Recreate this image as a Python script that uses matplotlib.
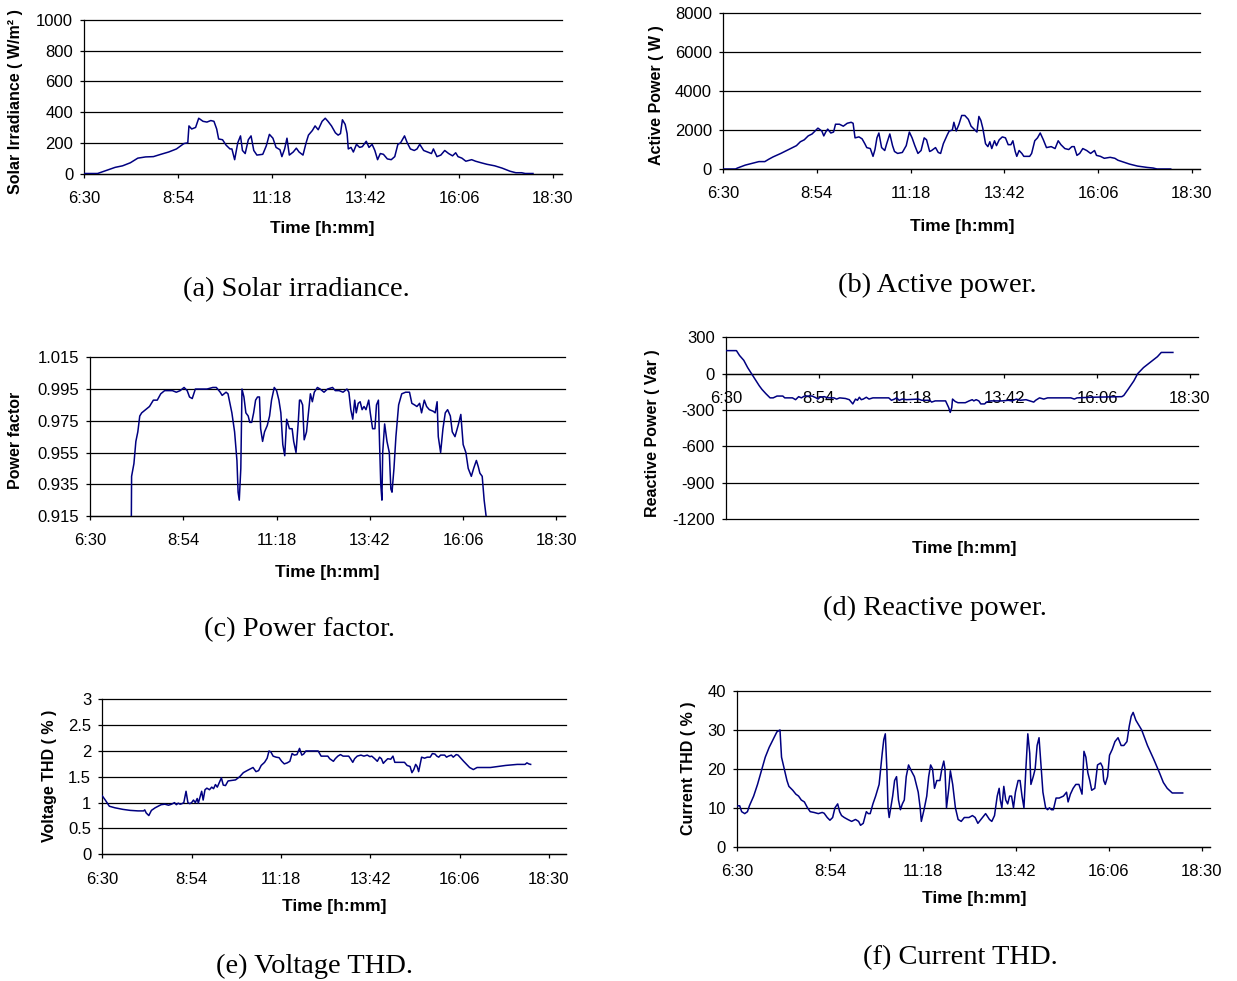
import matplotlib.pyplot as plt
import numpy as np

plt.rcParams['font.family'] = ['Liberation Sans', 'DejaVu Sans']
plt.rcParams['axes.unicode_minus'] = False

W, H = 1237, 981

# time axis, hours of day
tick_hours = [6.5, 8.9, 11.3, 13.7, 16.1, 18.5]
tick_labels = ['6:30', '8:54', '11:18', '13:42', '16:06', '18:30']

'''
(a) solar irradiance
'''
irr_t = [6.50, 6.84, 7.29, 7.48, 7.68, 7.87, 8.07, 8.27, 8.46, 8.66,
         8.86, 9.05, 9.15, 9.18, 9.25, 9.35, 9.43, 9.54, 9.64, 9.74,
         9.82, 9.89, 9.94, 10.04, 10.13, 10.23, 10.28, 10.35, 10.43, 10.50,
         10.55, 10.62, 10.70, 10.77, 10.84, 10.92, 11.07, 11.16, 11.24, 11.33,
         11.41, 11.51, 11.56, 11.63, 11.69, 11.75, 11.85, 11.93, 12.00, 12.10,
         12.18, 12.24, 12.34, 12.41, 12.49, 12.59, 12.67, 12.74, 12.83, 12.93,
         13.00, 13.06, 13.11, 13.18, 13.23, 13.26, 13.33, 13.39, 13.47, 13.55,
         13.62, 13.72, 13.79, 13.87, 13.94, 14.01, 14.08, 14.16, 14.26, 14.36,
         14.45, 14.53, 14.60, 14.70, 14.77, 14.85, 14.95, 15.02, 15.09, 15.19,
         15.29, 15.39, 15.44, 15.53, 15.63, 15.73, 15.83, 15.93, 16.01, 16.07,
         16.17, 16.27, 16.42, 16.52, 16.66, 16.81, 17.01, 17.20, 17.40, 17.55,
         17.70, 17.79, 17.99]
irr_v = [0, 0, 40, 50, 70, 100, 108, 110, 125, 140,
         160, 195, 200, 310, 290, 300, 360, 340, 335, 345,
         340, 290, 225, 220, 185, 160, 160, 90, 200, 245,
         150, 130, 220, 245, 150, 120, 125, 180, 255, 230,
         170, 155, 110, 160, 230, 120, 140, 165, 140, 120,
         200, 250, 280, 310, 285, 340, 360, 340, 310, 265,
         250, 260, 350, 320, 260, 160, 170, 140, 190, 170,
         175, 210, 170, 190, 150, 90, 130, 125, 95, 90,
         110, 190, 200, 245, 200, 160, 150, 160, 190, 150,
         140, 130, 160, 110, 120, 150, 130, 115, 135, 110,
         100, 80, 90, 80, 70, 60, 50, 35, 15, 5,
         5, 0, 0]

'''
(b) active power
'''
p_t = [6.50, 6.82, 6.87, 7.07, 7.27, 7.42, 7.57, 7.67, 7.78, 7.98,
       8.18, 8.38, 8.48, 8.58, 8.68, 8.78, 8.88, 8.93, 9.03, 9.08,
       9.13, 9.18, 9.26, 9.33, 9.38, 9.48, 9.58, 9.68, 9.78, 9.83,
       9.88, 9.98, 10.06, 10.13, 10.18, 10.27, 10.34, 10.39, 10.44, 10.49,
       10.56, 10.64, 10.69, 10.77, 10.84, 10.89, 10.97, 11.09, 11.19, 11.27,
       11.34, 11.41, 11.49, 11.57, 11.65, 11.71, 11.79, 11.84, 11.94, 12.01,
       12.07, 12.14, 12.24, 12.29, 12.37, 12.41, 12.47, 12.54, 12.61, 12.69,
       12.78, 12.85, 12.95, 13.00, 13.05, 13.10, 13.15, 13.22, 13.28, 13.33,
       13.38, 13.45, 13.50, 13.57, 13.65, 13.73, 13.80, 13.87, 13.92, 13.98,
       14.02, 14.08, 14.15, 14.20, 14.35, 14.40, 14.48, 14.55, 14.62, 14.70,
       14.78, 14.90, 15.00, 15.08, 15.15, 15.25, 15.35, 15.43, 15.49, 15.56,
       15.63, 15.71, 15.81, 15.91, 16.01, 16.06, 16.16, 16.26, 16.41, 16.53,
       16.61, 16.76, 16.91, 17.11, 17.36, 17.51, 17.61, 17.96]
p_v = [0, 0, 50, 200, 300, 380, 380, 500, 620, 800,
       1000, 1200, 1400, 1500, 1700, 1800, 2000, 2100, 1950, 1700,
       1900, 2050, 1850, 1900, 2300, 2300, 2200, 2350, 2400, 2350,
       1600, 1650, 1550, 1300, 1100, 1050, 650, 1000, 1600, 1850,
       1100, 950, 1300, 1800, 1200, 900, 800, 850, 1200, 1900,
       1600, 1200, 800, 950, 1600, 1500, 900, 950, 1100, 850,
       800, 1300, 1750, 1950, 2000, 2400, 1950, 2300, 2750, 2750,
       2550, 2200, 2000, 1900, 2700, 2500, 2100, 1300, 1150, 1400,
       1050, 1450, 1200, 1500, 1650, 1600, 1250, 1250, 1450, 900,
       650, 950, 800, 650, 650, 800, 1450, 1600, 1850, 1500,
       1100, 1150, 1050, 1450, 1250, 1050, 1000, 1150, 1150, 700,
       800, 1050, 950, 800, 950, 700, 650, 550, 600, 550,
       450, 350, 250, 150, 80, 50, 0, 0]

'''
(c) power factor (goes off the bottom of the scale at both ends)
'''
pf_t = [7.56, 7.57, 7.63, 7.68, 7.73, 7.78, 7.83, 7.93, 8.03, 8.13,
        8.23, 8.32, 8.42, 8.52, 8.62, 8.72, 8.82, 8.92, 9.00, 9.06,
        9.13, 9.21, 9.31, 9.51, 9.66, 9.75, 9.85, 9.90, 10.00, 10.05,
        10.15, 10.22, 10.28, 10.31, 10.34, 10.38, 10.41, 10.46, 10.51, 10.57,
        10.61, 10.66, 10.71, 10.76, 10.81, 10.86, 10.89, 10.94, 10.99, 11.06,
        11.12, 11.17, 11.24, 11.30, 11.36, 11.41, 11.46, 11.51, 11.56, 11.63,
        11.70, 11.74, 11.80, 11.86, 11.89, 11.92, 11.97, 12.01, 12.07, 12.12,
        12.17, 12.22, 12.27, 12.35, 12.42, 12.52, 12.61, 12.74, 12.81, 12.91,
        13.01, 13.11, 13.16, 13.21, 13.26, 13.31, 13.35, 13.40, 13.45, 13.50,
        13.55, 13.60, 13.67, 13.71, 13.77, 13.83, 13.87, 13.92, 13.95, 13.98,
        14.01, 14.03, 14.08, 14.14, 14.20, 14.24, 14.27, 14.32, 14.37, 14.44,
        14.52, 14.62, 14.72, 14.78, 14.85, 14.91, 14.98, 15.03, 15.10, 15.16,
        15.23, 15.33, 15.38, 15.43, 15.46, 15.52, 15.58, 15.64, 15.70, 15.77,
        15.82, 15.89, 15.97, 16.04, 16.10, 16.17, 16.23, 16.31, 16.37, 16.44,
        16.49, 16.53, 16.59, 16.64, 16.69, 16.71]
pf_v = [0.900, 0.940, 0.948, 0.962, 0.968, 0.978, 0.980, 0.982, 0.984, 0.988,
        0.988, 0.992, 0.994, 0.994, 0.994, 0.993, 0.994, 0.996, 0.994, 0.990,
        0.989, 0.995, 0.995, 0.995, 0.996, 0.996, 0.993, 0.991, 0.993, 0.992,
        0.980, 0.968, 0.950, 0.930, 0.925, 0.945, 0.995, 0.990, 0.980, 0.978,
        0.974, 0.974, 0.980, 0.988, 0.990, 0.990, 0.970, 0.962, 0.968, 0.972,
        0.978, 0.988, 0.996, 0.994, 0.988, 0.980, 0.960, 0.953, 0.976, 0.970,
        0.970, 0.962, 0.955, 0.975, 0.988, 0.988, 0.985, 0.963, 0.968, 0.980,
        0.992, 0.987, 0.993, 0.996, 0.995, 0.993, 0.995, 0.996, 0.994, 0.994,
        0.993, 0.995, 0.993, 0.982, 0.976, 0.988, 0.980, 0.986, 0.987, 0.982,
        0.984, 0.982, 0.988, 0.980, 0.970, 0.970, 0.985, 0.988, 0.960, 0.935,
        0.925, 0.955, 0.973, 0.962, 0.955, 0.932, 0.930, 0.945, 0.965, 0.985,
        0.992, 0.993, 0.993, 0.986, 0.985, 0.984, 0.986, 0.980, 0.988, 0.984,
        0.982, 0.981, 0.980, 0.987, 0.965, 0.955, 0.970, 0.980, 0.982, 0.978,
        0.968, 0.965, 0.972, 0.979, 0.960, 0.955, 0.945, 0.940, 0.945, 0.950,
        0.946, 0.942, 0.940, 0.925, 0.915, 0.900]

'''
(d) reactive power
'''
q_t = [6.50, 6.77, 6.85, 6.96, 7.06, 7.16, 7.26, 7.36, 7.43, 7.53,
       7.64, 7.72, 7.82, 7.97, 8.02, 8.22, 8.30, 8.38, 8.45, 8.53,
       8.73, 8.83, 8.88, 8.93, 9.04, 9.14, 9.29, 9.36, 9.44, 9.59,
       9.69, 9.78, 9.85, 9.90, 9.95, 10.00, 10.05, 10.13, 10.20, 10.30,
       10.71, 10.78, 10.86, 10.91, 10.98, 11.06, 11.17, 11.47, 11.57, 11.77,
       11.82, 11.91, 12.18, 12.26, 12.30, 12.34, 12.36, 12.43, 12.50, 12.69,
       12.79, 12.87, 12.91, 12.97, 13.04, 13.09, 13.19, 13.24, 13.35, 13.50,
       13.65, 13.80, 13.90, 14.01, 14.11, 14.26, 14.36, 14.46, 14.51, 14.61,
       14.72, 14.82, 15.42, 15.51, 15.58, 15.93, 16.74, 16.79, 16.90, 17.05,
       17.15, 17.30, 17.50, 17.66, 17.76, 18.06]
q_v = [190, 190, 150, 110, 50, 0, -50, -100, -130, -165,
       -200, -200, -185, -185, -200, -200, -215, -190, -200, -185,
       -185, -200, -210, -195, -190, -200, -200, -210, -200, -205,
       -215, -250, -210, -220, -195, -215, -210, -195, -210, -200,
       -200, -220, -210, -200, -220, -210, -215, -210, -220, -220,
       -235, -225, -225, -280, -320, -280, -210, -230, -240, -240,
       -225, -215, -225, -215, -225, -250, -250, -235, -225, -225,
       -225, -220, -225, -210, -220, -215, -225, -235, -220, -200,
       -210, -200, -200, -210, -200, -195, -190, -180, -130, -60,
       0, 50, 100, 140, 175, 175]

'''
(e) voltage THD
'''
vthd_t = [6.50, 6.58, 6.69, 6.84, 7.05, 7.25, 7.46, 7.61, 7.64, 7.68,
          7.75, 7.82, 7.92, 8.08, 8.18, 8.28, 8.36, 8.44, 8.49, 8.54,
          8.59, 8.64, 8.69, 8.75, 8.80, 8.85, 8.90, 8.95, 9.00, 9.05,
          9.08, 9.13, 9.17, 9.21, 9.26, 9.31, 9.38, 9.44, 9.49, 9.54,
          9.59, 9.64, 9.70, 9.75, 9.81, 9.88, 9.98, 10.08, 10.19, 10.29,
          10.39, 10.55, 10.63, 10.70, 10.77, 10.86, 10.93, 10.98, 11.03, 11.09,
          11.17, 11.25, 11.32, 11.39, 11.47, 11.54, 11.60, 11.66, 11.73, 11.80,
          11.86, 11.91, 11.97, 12.30, 12.38, 12.56, 12.61, 12.71, 12.76, 12.83,
          12.90, 12.97, 13.12, 13.17, 13.23, 13.28, 13.35, 13.45, 13.53, 13.62,
          13.69, 13.74, 13.82, 13.89, 13.95, 14.00, 14.05, 14.10, 14.17, 14.25,
          14.31, 14.36, 14.62, 14.69, 14.77, 14.82, 14.87, 14.92, 14.96, 15.00,
          15.05, 15.08, 15.16, 15.23, 15.31, 15.37, 15.44, 15.49, 15.54, 15.59,
          15.70, 15.75, 15.80, 15.88, 15.93, 16.01, 16.06, 16.21, 16.37, 16.47,
          16.57, 16.93, 17.34, 17.65, 17.86, 17.91, 17.96, 18.01]
vthd_v = [1.13, 1.05, 0.93, 0.90, 0.87, 0.85, 0.84, 0.84, 0.86, 0.80,
          0.75, 0.85, 0.90, 0.96, 0.97, 0.95, 0.97, 1.00, 0.96, 0.99,
          0.97, 0.98, 1.00, 1.22, 1.00, 0.98, 1.00, 1.05, 1.00, 1.08,
          0.99, 1.12, 1.22, 1.05, 1.25, 1.28, 1.25, 1.30, 1.27, 1.35,
          1.30, 1.38, 1.48, 1.34, 1.33, 1.42, 1.43, 1.44, 1.50, 1.58,
          1.62, 1.68, 1.60, 1.62, 1.72, 1.78, 1.86, 2.00, 1.98, 1.90,
          1.88, 1.87, 1.80, 1.75, 1.77, 1.80, 1.95, 1.92, 1.93, 2.05,
          1.92, 1.94, 2.00, 2.00, 1.90, 1.90, 1.85, 1.80, 1.85, 1.90,
          1.93, 1.90, 1.90, 1.85, 1.78, 1.85, 1.90, 1.92, 1.90, 1.92,
          1.89, 1.90, 1.85, 1.80, 1.88, 1.85, 1.76, 1.80, 1.85, 1.84,
          1.90, 1.78, 1.78, 1.72, 1.70, 1.58, 1.64, 1.74, 1.70, 1.60,
          1.78, 1.88, 1.86, 1.88, 1.88, 1.95, 1.94, 1.90, 1.88, 1.92,
          1.92, 1.88, 1.90, 1.92, 1.88, 1.93, 1.92, 1.80, 1.68, 1.64,
          1.68, 1.68, 1.72, 1.74, 1.74, 1.77, 1.75, 1.74]

'''
(f) current THD
'''
ithd_t = [6.50, 6.57, 6.62, 6.70, 6.77, 6.82, 6.93, 7.03, 7.13, 7.23,
          7.33, 7.43, 7.53, 7.61, 7.65, 7.72, 7.79, 7.84, 7.94, 8.02,
          8.09, 8.16, 8.24, 8.32, 8.39, 8.49, 8.60, 8.70, 8.75, 8.83,
          8.90, 8.97, 9.03, 9.10, 9.15, 9.20, 9.27, 9.36, 9.46, 9.56,
          9.64, 9.69, 9.76, 9.84, 9.89, 9.94, 10.01, 10.08, 10.17, 10.25,
          10.29, 10.33, 10.37, 10.40, 10.43, 10.47, 10.52, 10.57, 10.62, 10.67,
          10.72, 10.77, 10.82, 10.87, 10.93, 11.00, 11.08, 11.13, 11.18, 11.23,
          11.26, 11.33, 11.40, 11.45, 11.50, 11.55, 11.60, 11.66, 11.74, 11.79,
          11.84, 11.87, 11.91, 11.97, 12.01, 12.07, 12.14, 12.21, 12.29, 12.37,
          12.49, 12.58, 12.65, 12.72, 12.80, 12.92, 13.02, 13.08, 13.15, 13.22,
          13.27, 13.30, 13.34, 13.39, 13.44, 13.49, 13.54, 13.59, 13.64, 13.69,
          13.76, 13.81, 13.86, 13.91, 13.96, 14.01, 14.06, 14.09, 14.15, 14.20,
          14.25, 14.30, 14.35, 14.40, 14.47, 14.52, 14.57, 14.62, 14.67, 14.74,
          14.82, 14.93, 15.01, 15.05, 15.11, 15.18, 15.25, 15.33, 15.41, 15.46,
          15.51, 15.56, 15.61, 15.66, 15.74, 15.81, 15.89, 15.94, 15.97, 16.01,
          16.07, 16.12, 16.19, 16.26, 16.34, 16.42, 16.49, 16.57, 16.63, 16.68,
          16.73, 16.80, 16.95, 17.10, 17.26, 17.41, 17.51, 17.61, 17.74, 18.01]
ithd_v = [10.5, 10.5, 9, 8.5, 9, 10.5, 13, 16, 19.5, 23,
          25.5, 27.5, 29.5, 30, 23, 20, 17, 15.5, 14.5, 13.5,
          13, 12, 11.5, 10, 9, 8.8, 8.5, 8.8, 8.6, 7.5,
          6.8, 7.5, 10, 11, 9, 8, 7.5, 7, 6.5, 7,
          6.5, 5.5, 6, 9, 8.5, 8.5, 11, 13, 16, 24,
          27.5, 29, 20, 10, 7.5, 10, 13, 17, 18, 12,
          9.5, 11, 12, 18, 21, 19.5, 18, 16, 14, 10,
          6.5, 9.5, 13, 18, 21, 20, 15, 17, 17, 20,
          22, 20, 10, 15, 19.5, 16, 10, 7, 6.5, 7.5,
          7.5, 8, 7.5, 6, 7, 8.5, 7, 6.5, 8, 13,
          15, 12, 10, 15.5, 12, 11, 13, 13, 10, 14,
          17, 17, 13, 10, 20, 29, 24, 16, 18, 20,
          26, 28, 21, 14, 10, 9.5, 10, 9.5, 9.5, 12.5,
          12.5, 13, 14, 11.5, 13.5, 15, 16, 16, 13.5, 24.5,
          23, 19, 17, 14.5, 15, 21, 21.5, 20.5, 17, 16,
          18, 23.5, 25, 27, 28, 26, 26, 27, 31, 33.5,
          34.5, 32.5, 30, 26, 22.5, 19, 16.5, 15, 13.8, 13.8]


fig = plt.figure(figsize=(W / 100, H / 100), dpi=100)


def fx(px):
    return px / W


def fy(py):
    return 1 - py / H


def panel(box, t, v, yticks, ylabel, ylab_xy, xlab_xy, caption, cap_xy,
          xmax=18.72, zero_axis=False):
    l, top, r, b = box
    ax = fig.add_axes([fx(l), fy(b), (r - l) / W, (b - top) / H])
    ax.plot(t, v, color='#000080', linewidth=1.1, zorder=3)
    ax.set_xlim(6.5, xmax)
    ax.set_ylim(yticks[0], yticks[-1])
    ax.set_xticks(tick_hours, tick_labels)
    ax.set_yticks(yticks, ['%g' % y for y in yticks])
    ax.grid(axis='y', color='black', linewidth=0.9, clip_on=False)
    ax.spines['top'].set_visible(False)
    ax.spines['right'].set_visible(False)
    for s in ('left', 'bottom'):
        ax.spines[s].set_linewidth(0.9)
    if zero_axis:
        ax.spines['bottom'].set_position(('data', 0))
    ax.tick_params(axis='x', length=3, width=0.9, pad=9.5, labelsize=12)
    ax.tick_params(axis='y', length=3, width=0.9, pad=5, labelsize=12)
    ax.set_xlabel('Time [h:mm]', fontsize=12.5, fontweight='bold', va='center')
    ax.xaxis.set_label_coords(fx(xlab_xy[0]), fy(xlab_xy[1]), transform=fig.transFigure)
    ax.set_ylabel(ylabel, fontsize=11.5, fontweight='bold', va='center')
    ax.yaxis.set_label_coords(fx(ylab_xy[0]), fy(ylab_xy[1]), transform=fig.transFigure)
    fig.text(fx(cap_xy[0]), fy(cap_xy[1]), caption, family='Liberation Serif',
             fontsize=20.5, ha='center', va='center')
    return ax


panel((84.3, 20, 561.5, 173.5), irr_t, irr_v, [0, 200, 400, 600, 800, 1000],
      'Solar Irradiance ( W/m² )', (16, 102), (322, 229),
      '(a) Solar irradiance.', (296, 290))
panel((723, 13.3, 1200.4, 169), p_t, p_v, [0, 2000, 4000, 6000, 8000],
      'Active Power ( W )', (656, 95), (962, 226),
      '(b) Active power.', (937, 285))
panel((90, 357.3, 565, 516), pf_t, pf_v, [0.915, 0.935, 0.955, 0.975, 0.995, 1.015],
      'Power factor', (16, 440), (327, 572),
      '(c) Power factor.', (300, 630))
panel((726, 337.3, 1198.4, 519), q_t, q_v, [-1200, -900, -600, -300, 0, 300],
      'Reactive Power ( Var )', (653, 433), (964, 549),
      '(d) Reactive power.', (935, 608), zero_axis=True)
panel((102.3, 699.3, 566, 854.3), vthd_t, vthd_v, [0, 0.5, 1, 1.5, 2, 2.5, 3],
      'Voltage THD ( % )', (50, 776), (334, 907),
      '(e) Voltage THD.', (315, 966), xmax=18.96)
panel((737, 691, 1210.2, 846.7), ithd_t, ithd_v, [0, 10, 20, 30, 40],
      'Current THD ( % )', (689, 768), (974, 899),
      '(f) Current THD.', (960, 958))

plt.savefig('out.png', dpi=100)
